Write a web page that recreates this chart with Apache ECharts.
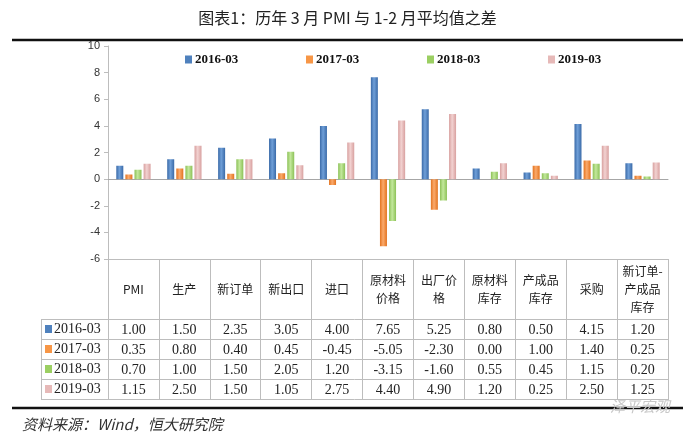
<!DOCTYPE html>
<html><head><meta charset="utf-8">
<script src="https://cdn.jsdelivr.net/npm/echarts@6/dist/echarts.min.js"></script>
<style>html,body{margin:0;padding:0;background:#fff}#c{width:695px;height:437px}</style>
</head><body><div id="c"></div>
<script>
// ---- data ----
const categories = ['PMI','生产','新订单','新出口','进口','原材料价格','出厂价格','原材料库存','产成品库存','采购','新订单-产成品库存'];
const headerLabels = ['PMI','生产','新订单','新出口','进口','原材料\n价格','出厂价\n格','原材料\n库存','产成品\n库存','采购','新订单-\n产成品\n库存'];
const seriesNames = ['2016-03','2017-03','2018-03','2019-03'];
const s2016 = [1.00,1.50,2.35,3.05,4.00,7.65,5.25,0.80,0.50,4.15,1.20];
const s2017 = [0.35,0.80,0.40,0.45,-0.45,-5.05,-2.30,0.00,1.00,1.40,0.25];
const s2018 = [0.70,1.00,1.50,2.05,1.20,-3.15,-1.60,0.55,0.45,1.15,0.20];
const s2019 = [1.15,2.50,1.50,1.05,2.75,4.40,4.90,1.20,0.25,2.50,1.25];
const yMin = -6, yMax = 10, yStep = 2;
const titleText = '图表1：历年 3 月 PMI 与 1-2 月平均值之差';
const sourceText = '资料来源：Wind，恒大研究院';

// ---- styles ----
const allSeries = [s2016, s2017, s2018, s2019];
const colorSets = [
  ['#3a6aa8', '#6f9fd8', '#3a6aa8'],
  ['#e2731f', '#fbaa6c', '#e2731f'],
  ['#8cc157', '#c3e89c', '#8cc157'],
  ['#d8a09f', '#f2d2d1', '#d8a09f']
];
const solid = ['#4f81bd', '#f79646', '#9bcf62', '#e6b9b8'];
const grad = c => new echarts.graphic.LinearGradient(0, 0, 1, 0, [
  {offset: 0, color: c[0]}, {offset: 0.45, color: c[1]}, {offset: 1, color: c[2]}]);
const serif = '"Liberation Serif", "Noto Sans CJK SC", serif';
const cjk = '"Noto Sans CJK SC", sans-serif';
const lineGray = '#bdbdbd';

const chart = echarts.init(document.getElementById('c'), null, {renderer: 'canvas'});
const gridLeft = 108, gridRight = 27, gridTop = 46, gridBottom = 178;

chart.setOption({
  animation: false,
  backgroundColor: '#fff',
  title: {
    text: titleText, left: 'center', top: 5,
    textStyle: {fontFamily: cjk, fontSize: 16, fontWeight: 'normal', color: '#222'}
  },
  legend: seriesNames.map((n, i) => ({
    data: [{name: n, icon: 'rect'}], left: 180 + 121 * i, top: 48, itemWidth: 7, itemHeight: 8,
    itemStyle: {color: solid[i]},
    textStyle: {fontFamily: serif, fontSize: 13, fontWeight: 'bold', color: '#111', padding: [0, 0, 0, -2]}
  })),
  grid: {left: gridLeft, right: gridRight, top: gridTop, bottom: gridBottom, containLabel: false},
  xAxis: [
    {
      type: 'category', data: categories,
      axisLine: {onZero: true, lineStyle: {color: '#a6a6a6', width: 1}},
      axisTick: {show: false}, axisLabel: {show: false}, splitLine: {show: false}
    },
    {
      type: 'category', data: headerLabels, position: 'bottom',
      axisLine: {onZero: false, lineStyle: {color: lineGray, width: 1}},
      axisTick: {show: true, length: 141, interval: 0, lineStyle: {color: lineGray}},
      axisLabel: {interval: 0, margin: 30, verticalAlign: 'middle', lineHeight: 18,
        fontFamily: cjk, fontSize: 12, color: '#222'}
    }
  ],
  yAxis: {
    type: 'value', min: yMin, max: yMax, interval: yStep,
    axisLine: {show: true, lineStyle: {color: lineGray}},
    axisTick: {show: true, length: 4, lineStyle: {color: lineGray}},
    axisLabel: {fontFamily: '"Liberation Sans", Arial, sans-serif', fontSize: 11, color: '#333', margin: 8},
    splitLine: {show: false}
  },
  series: allSeries.map((d, i) => ({
    name: seriesNames[i], type: 'bar', xAxisIndex: 0, data: d,
    barWidth: 7, barGap: '30%',
    itemStyle: {color: grad(colorSets[i])}
  }))
});

// ---- data table drawn beneath the plot, positioned from the axes ----
const x0 = chart.convertToPixel({xAxisIndex: 1}, headerLabels[0]);
const x1 = chart.convertToPixel({xAxisIndex: 1}, headerLabels[1]);
const colW = x1 - x0;
const tableLeftAxis = x0 - colW / 2;
const tableRight = tableLeftAxis + colW * categories.length;
const yBottom = chart.convertToPixel({yAxisIndex: 0}, yMin);
const headerH = 60, rowH = 20, legendColLeft = 41;
const g = [];
const rowTop = yBottom + headerH;
for (let r = 0; r <= seriesNames.length; r++) {
  const y = Math.round(rowTop + r * rowH) + 0.5;
  g.push({type: 'line', shape: {x1: legendColLeft, y1: y, x2: tableRight, y2: y},
    style: {stroke: lineGray, lineWidth: 1}, silent: true});
}
g.push({type: 'line', shape: {x1: legendColLeft + 0.5, y1: rowTop, x2: legendColLeft + 0.5, y2: rowTop + rowH * 4},
  style: {stroke: lineGray, lineWidth: 1}});
seriesNames.forEach((n, r) => {
  const cy = rowTop + r * rowH + rowH / 2;
  g.push({type: 'rect', shape: {x: 45, y: cy - 4, width: 7, height: 8}, style: {fill: solid[r]}});
  g.push({type: 'text', x: 54, y: cy, style: {text: n, fontFamily: serif, fontSize: 14,
    fill: '#222', textVerticalAlign: 'middle', verticalAlign: 'middle'}});
  allSeries[r].forEach((v, c) => {
    const cx = chart.convertToPixel({xAxisIndex: 1}, headerLabels[c]);
    g.push({type: 'text', x: cx, y: cy + 1, style: {text: v.toFixed(2), fontFamily: serif, fontSize: 14,
      fill: '#222', align: 'center', verticalAlign: 'middle'}});
  });
});
// title rule, bottom rule, source, watermark
g.push({type: 'line', shape: {x1: 12, y1: 40, x2: 683, y2: 40}, style: {stroke: '#111', lineWidth: 2.5}});
g.push({type: 'line', shape: {x1: 12, y1: 408, x2: 683, y2: 408}, style: {stroke: '#111', lineWidth: 2.5}});
g.push({type: 'text', x: 22, y: 424, style: {text: sourceText, fontFamily: cjk, fontStyle: 'italic',
  fontSize: 15, fill: '#333', verticalAlign: 'middle'}});
g.push({type: 'text', x: 610, y: 406, style: {text: '泽平宏观', fontFamily: cjk, fontStyle: 'italic',
  fontSize: 15, fill: '#c8c8c8', verticalAlign: 'middle'}});
chart.setOption({graphic: {elements: g}});
</script></body></html>
